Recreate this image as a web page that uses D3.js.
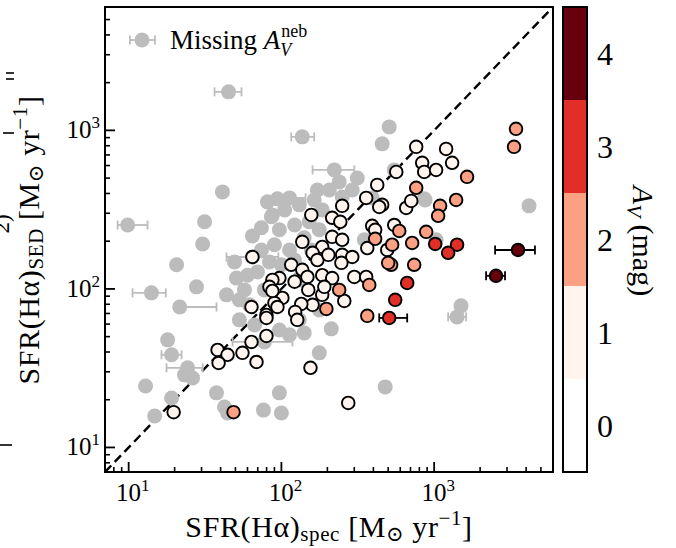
<!DOCTYPE html>
<html><head><meta charset="utf-8">
<script src="https://cdn.jsdelivr.net/npm/d3@7"></script>
<style>
body{margin:0;background:#fff}
svg{display:block}
text{font-family:"Liberation Serif","DejaVu Serif",serif;fill:#000}
</style>
</head><body>
<svg id="c" width="676" height="548"></svg>
<script>
// ---------- DATA ----------
// Galaxies with missing nebular A_V (grey)
const missX = [45.1,137,9.85,222,239,314,508,457,41.1,81.0,94.2,113,86.0,31.4,64.6,30.5,20.6,64.6,27.8,14.1,21.6,50.8,43.7,18.0,19.1,24.3,23.2,26.2,12.9,37.6,19.1,14.8,42.4,44.4,76.3,100,97.0,77.4,113,141,212,177,478,873,1030,4180,1500,1413,250,291,393,185,548,861,87.3,105,131,97,122,152,90.0,113,141,74.0,83.5,69.7,100,77.4,57.3,61.8,53.1,97,66.7,122,157,131,49.3,60.0,172,206,349,
  74.0,177,164,53.1,131,177];
const missY = [1750,910,253,563,473,501,1052,822,409,354,370,375,285,265,216,192,142,159,103,94.4,76.9,117,91.7,47.7,38.4,31.8,28.7,27.4,24.4,22.1,20.5,15.8,18.0,16.5,17.2,16.5,22.1,46.3,51.3,52.8,56.0,39.5,24.1,364,204,334,78.2,66.6,380,421,375,315,563,370,293,315,339,236,253,265,190,176,210,176,148,128,142,98.6,98.6,79.3,63.8,55.1,59.3,152,176,114,148,122,421,421,204,
  243,236,364,85.3,63.8,73.7];
// visible x error bars of grey points (index into missX / missY)
const missErrIdx = [0,1,2,3,11,17,19,20,24,25,37,47];
const missErrLo  = [36.5,116,8.47,160,92.8,43.7,10.6,20.0,16.4,17.7,47.9,1235];
const missErrHi  = [54.8,164,13.3,300,144,95.5,17.5,37.6,22.2,30.5,118,1620];

// Galaxies with measured A_V (coloured)
const colX = [763,1198,1311,835,861,1030,565,424,359,457,437,656,708,250,157,215,243,393,411,548,
  137,185,215,250,365,493,160,172,203,250,291,247,116,137,185,215,300,359,97,87.3,122,150,185,101.5,258,160,135,90,83.5,
  87.3,64.6,63.7,79.8,79.8,94.2,123,127,63.7,79.8,38.2,44.4,55.6,38.8,68.7,155,274,19.7,191,148,
  3436,3334,1643,763,1393,1094,1062,887,591,718,531,523,740,411,500,376,239,197,365,48.6,
  1016,1413,1235,666,556,508,
  3540,2541];
const colY = [787,764,624,624,547,563,547,453,375,339,329,324,359,334,293,281,265,250,236,253,
  198,184,213,204,181,176,169,152,164,164,159,146,142,132,122,117,119,119,117,114,111,98.6,91.7,87.7,84.0,79.3,80.4,81.6,103,
  97.1,159,76.9,68.5,65.6,76.9,71.6,63.8,46.3,50.5,41.2,38.4,39.5,34.1,34.6,31.8,19.1,16.7,103,119,
  1022,787,509,434,364,334,289,229,232,195,190,142,142,207,146,106,98.6,74.8,67.6,16.7,
  192,190,169,109,85.3,65.6,
  176,121];
const colAV = [1,1,1,1,1,1,1,1,1,1,1,1,1,1,1,1,1,1,1,1,
  1,1,1,1,1,1,1,1,1,1,1,1,1,1,1,1,1,1,1,1,1,1,1,1,1,1,1,1,1,
  1,1,1,1,1,1,1,1,1,1,1,1,1,1,1,1,1,1,1,1,
  2,2,2,2,2,2,2,2,2,2,2,2,2,2,2,2,2,2,2,2,
  3,3,3,3,3,3,
  4,4];
// visible x error bars of coloured points
const colErrIdx = [94,95,96];
const colErrLo  = [437,2506,2188];
const colErrHi  = [666,4571,2911];

// colour bar
const cbBins   = [0,1,2,3,4];
const cbColors = ["#ffffff","#fff4ee","#fca083","#e12f27","#67000d"];
const xMajor = [10,100,1000];
const xMinor = [8,9,20,30,40,50,60,70,80,90,200,300,400,500,600,700,800,900,2000,3000,4000,5000];
const yMajor = [10,100,1000];
const yMinor = [8,9,20,30,40,50,60,70,80,90,200,300,400,500,600,700,800,900,2000,3000,4000,5000];
const domain = [7,6000];

// ---------- CHART ----------
const svg = d3.select("#c");
const L=105,R=553,T=7,B=472;
const x = d3.scaleLog().domain(domain).range([L,R]);
const y = d3.scaleLog().domain(domain).range([B,T]);
const col = d3.scaleThreshold().domain([0.5,1.5,2.5,3.5]).range(cbColors);

svg.append("defs").append("clipPath").attr("id","pc")
  .append("rect").attr("x",L).attr("y",T).attr("width",R-L).attr("height",B-T);
const plot = svg.append("g").attr("clip-path","url(#pc)");

// 1:1 line
plot.append("line")
  .attr("x1",x(domain[0])).attr("y1",y(domain[0]))
  .attr("x2",x(domain[1])).attr("y2",y(domain[1]))
  .attr("stroke","#000").attr("stroke-width",2.4).attr("stroke-dasharray","9,5");

function errbar(g, xv, yv, lo, hi, color, w){
  const yy=y(yv);
  g.append("line").attr("x1",x(lo)).attr("x2",x(hi)).attr("y1",yy).attr("y2",yy)
    .attr("stroke",color).attr("stroke-width",w);
  [lo,hi].forEach(v=>g.append("line").attr("x1",x(v)).attr("x2",x(v))
    .attr("y1",yy-4.5).attr("y2",yy+4.5).attr("stroke",color).attr("stroke-width",w));
}
const grey="#bcbcbc";
const gErr = plot.append("g");
missErrIdx.forEach((k,i)=>errbar(gErr, missX[k], missY[k], missErrLo[i], missErrHi[i], grey, 1.8));
plot.append("g").selectAll("circle").data(missX).join("circle")
  .attr("cx",(d)=>x(d)).attr("cy",(d,i)=>y(missY[i])).attr("r",7.5).attr("fill",grey);

const cErr = plot.append("g");
colErrIdx.forEach((k,i)=>errbar(cErr, colX[k], colY[k], colErrLo[i], colErrHi[i], "#000", 1.8));
plot.append("g").selectAll("circle").data(colX).join("circle")
  .attr("cx",(d)=>x(d)).attr("cy",(d,i)=>y(colY[i])).attr("r",6.3)
  .attr("fill",(d,i)=>col(colAV[i])).attr("stroke","#000").attr("stroke-width",1.9);

// axes ticks (inward)
const ax = svg.append("g");
xMinor.forEach(v=>ax.append("line").attr("x1",x(v)).attr("x2",x(v)).attr("y1",B).attr("y2",B-5).attr("stroke","#000").attr("stroke-width",1.6));
xMajor.forEach(v=>ax.append("line").attr("x1",x(v)).attr("x2",x(v)).attr("y1",B).attr("y2",B-10).attr("stroke","#000").attr("stroke-width",1.8));
yMinor.forEach(v=>ax.append("line").attr("y1",y(v)).attr("y2",y(v)).attr("x1",L).attr("x2",L+5).attr("stroke","#000").attr("stroke-width",1.6));
yMajor.forEach(v=>ax.append("line").attr("y1",y(v)).attr("y2",y(v)).attr("x1",L).attr("x2",L+10).attr("stroke","#000").attr("stroke-width",1.8));

function powLabel(g, px, py, v, anchor){
  const e = Math.round(Math.log10(v));
  const t = g.append("text").attr("x",px).attr("y",py).attr("text-anchor",anchor).attr("font-size",25);
  t.append("tspan").text("10");
  t.append("tspan").attr("dy",-10).attr("font-size",17).text(e);
}
xMajor.forEach(v=>powLabel(ax, x(v)+4, 501, v, "middle"));
yMajor.forEach(v=>powLabel(ax, 100, y(v)+8, v, "end"));

// frame
svg.append("rect").attr("x",L).attr("y",T).attr("width",R-L).attr("height",B-T)
  .attr("fill","none").attr("stroke","#000").attr("stroke-width",2);

// axis labels
function sfrLabel(t, sub){
  t.append("tspan").text("SFR(H\u03b1)");
  t.append("tspan").attr("dy",4).attr("font-size",21).text(sub);
  t.append("tspan").attr("dy",-4).text(" [M");
  t.append("tspan").attr("dy",4).attr("font-size",21).text("\u2299");
  t.append("tspan").attr("dy",-4).text(" yr");
  t.append("tspan").attr("dy",-12).attr("font-size",21).text("\u22121");
  t.append("tspan").attr("dy",12).text("]");
}
sfrLabel(svg.append("text").attr("x",329).attr("y",537).attr("text-anchor","middle")
  .attr("font-size",30).attr("letter-spacing",0.6), "spec");
sfrLabel(svg.append("text").attr("transform","translate(39,240) rotate(-90)").attr("text-anchor","middle")
  .attr("font-size",30).attr("letter-spacing",0.6), "SED");

// legend
const lg = svg.append("g");
lg.append("line").attr("x1",130).attr("x2",155).attr("y1",40).attr("y2",40).attr("stroke",grey).attr("stroke-width",1.8);
[130,155].forEach(v=>lg.append("line").attr("x1",v).attr("x2",v).attr("y1",35.5).attr("y2",44.5).attr("stroke",grey).attr("stroke-width",1.8));
lg.append("circle").attr("cx",142).attr("cy",40).attr("r",7.5).attr("fill",grey);
const lt = lg.append("text").attr("x",170).attr("y",49).attr("font-size",27);
lt.append("tspan").text("Missing\u00a0");
lt.append("tspan").attr("font-style","italic").text("A");
lt.append("tspan").attr("dx",1).attr("dy",-12).attr("font-size",18).text("neb");
lt.append("tspan").attr("dx",-27).attr("dy",19).attr("font-size",18).attr("font-style","italic").text("V");

// colour bar
const cy = d3.scaleLinear().domain([-0.5,4.5]).range([B,T]);
const cb = svg.append("g");
cbBins.forEach((b,i)=>cb.append("rect").attr("x",563).attr("width",24)
  .attr("y",cy(b+0.5)).attr("height",cy(b-0.5)-cy(b+0.5)).attr("fill",cbColors[i]));
cb.append("rect").attr("x",563).attr("y",T).attr("width",24).attr("height",B-T)
  .attr("fill","none").attr("stroke","#000").attr("stroke-width",2);
cbBins.forEach(b=>cb.append("text").attr("x",597).attr("y",cy(b)+11).attr("font-size",32).text(b));
const cl = svg.append("text").attr("transform","translate(633,241) rotate(90)").attr("text-anchor","middle").attr("font-size",30);
cl.append("tspan").attr("font-style","italic").text("A");
cl.append("tspan").attr("dy",6).attr("font-size",21).attr("font-style","italic").text("V");
cl.append("tspan").attr("dy",-6).text(" (mag)");

// fragments of the neighbouring panel, clipped at the far left as in the reference
const fr = svg.append("g").attr("stroke","#000").attr("stroke-width",1.6);
fr.append("line").attr("x1",6).attr("x2",14).attr("y1",73).attr("y2",73);
fr.append("line").attr("x1",6).attr("x2",14).attr("y1",79).attr("y2",79);
fr.append("line").attr("x1",3).attr("x2",14).attr("y1",133).attr("y2",133);
fr.append("line").attr("x1",0).attr("x2",12).attr("y1",445).attr("y2",445);
svg.append("text").attr("transform","translate(9,224) rotate(-90)").attr("text-anchor","middle").attr("font-size",23).text("2)");
</script>
</body></html>
